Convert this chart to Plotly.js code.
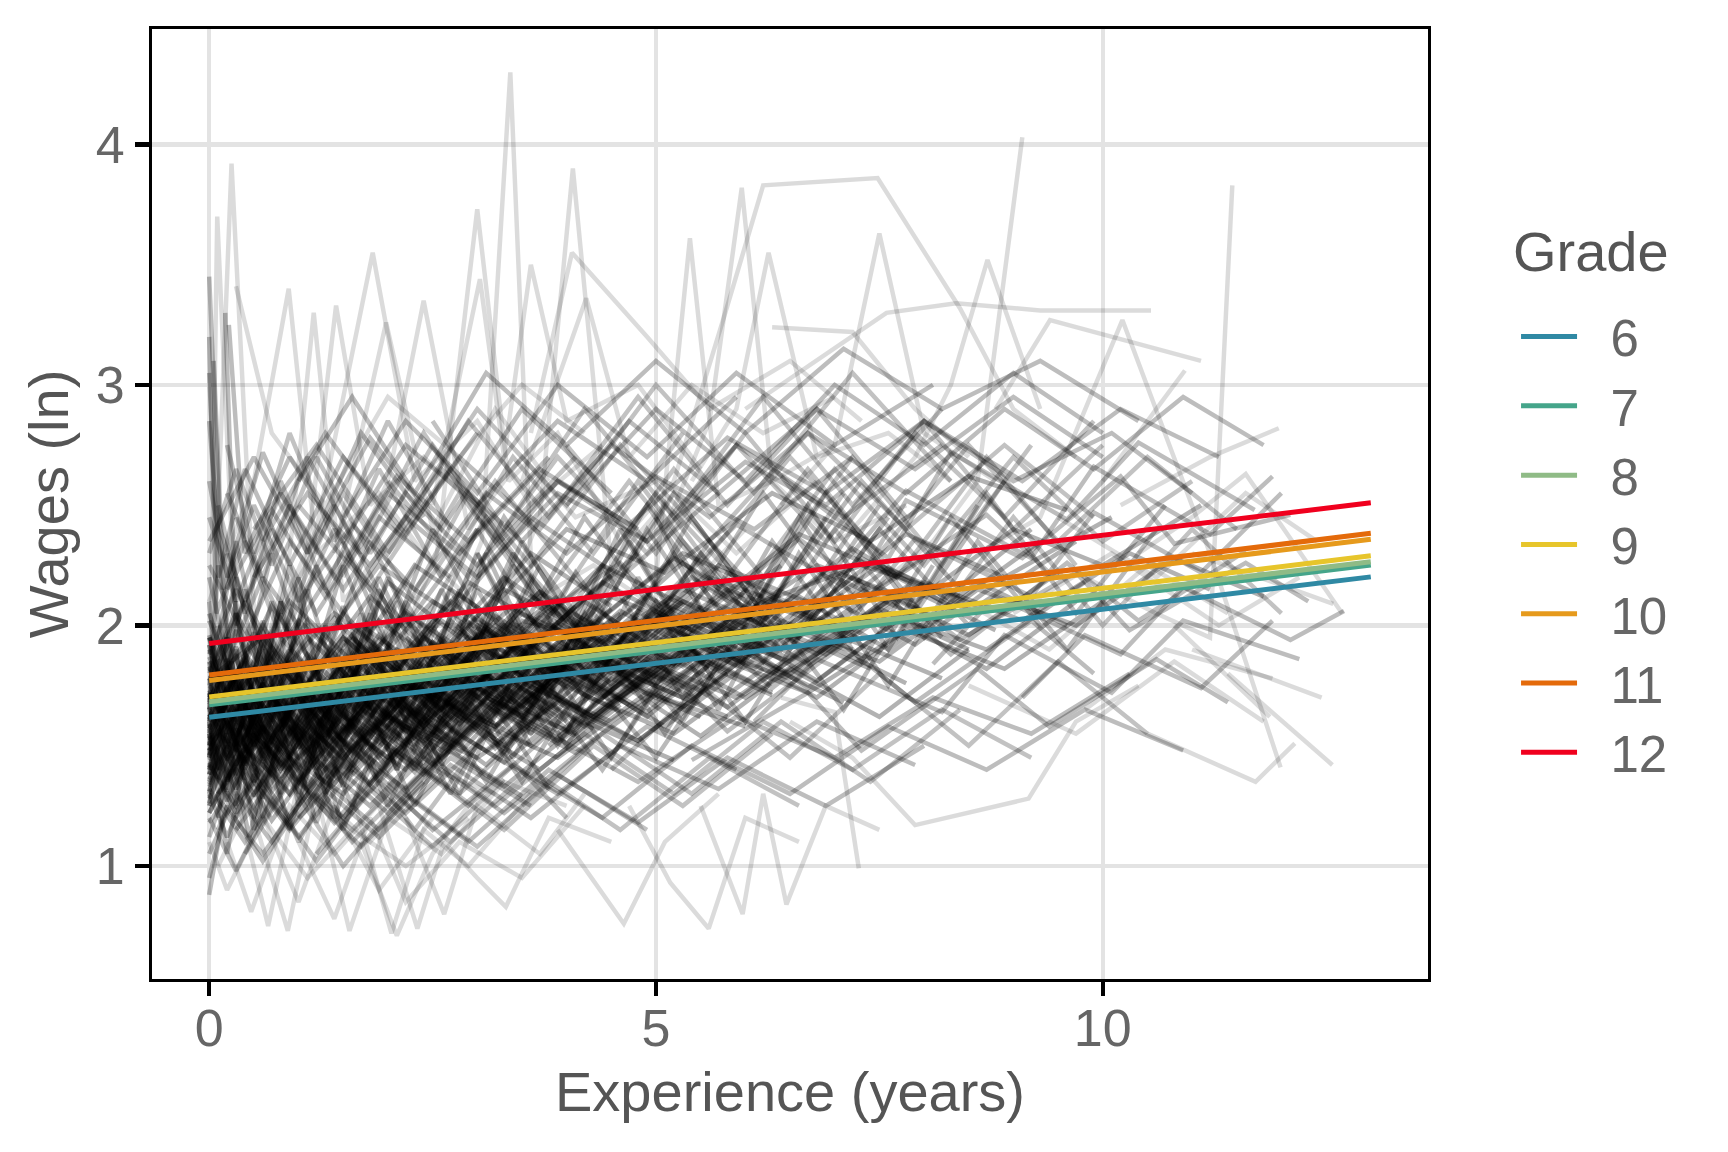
<!DOCTYPE html>
<html>
<head>
<meta charset="utf-8">
<script src="https://cdn.plot.ly/plotly-3.0.1.min.js"></script>
<style>
html, body { margin: 0; padding: 0; background: #fff; }
#chart { width: 1728px; height: 1152px; }
</style>
</head>
<body>
<div id="chart"></div>
<script>
// each person: exper, lnw, exper, lnw, ...
const highOutliers = [
	[2.6,1.95, 3.05,2.35, 3.37,4.30, 3.62,2.10, 4.3,2.25, 5.1,2.05, 6.0,2.40],
	[0,1.55, 0.25,3.92, 0.55,1.70, 1.1,1.85, 1.8,1.62, 2.5,2.00],
	[0,1.45, 0.09,3.70, 0.35,1.55, 0.9,1.40, 1.6,1.75, 2.4,1.62, 3.1,1.90],
	[3.2,2.00, 3.7,2.45, 4.07,3.90, 4.5,2.25, 5.2,2.55, 5.9,2.30, 6.8,2.60],
	[2.0,1.80, 2.55,2.30, 3.0,3.73, 3.35,2.60, 3.9,2.80, 4.6,2.35],
	[0.6,1.90, 1.2,2.40, 1.83,3.55, 2.3,2.60, 3.0,2.85, 3.6,2.50, 4.4,2.75],
	[0,2.10, 0.5,2.60, 0.89,3.40, 1.2,2.30, 1.9,2.55, 2.6,2.20],
	[0.3,3.41, 0.7,2.80, 1.3,2.50, 2.0,2.95, 2.8,2.70, 3.5,3.00, 4.2,2.80],
	[1.5,2.20, 2.0,2.60, 2.4,3.35, 2.9,2.40, 3.5,2.70, 4.1,2.45, 5.0,2.60],
	[2.5,2.50, 3.03,3.44, 3.3,2.70, 3.6,3.50, 4.0,2.85, 4.8,3.00, 5.5,2.65],
	[3.5,2.60, 4.22,3.36, 4.7,2.70, 5.4,3.00, 6.2,2.80, 7.0,2.95],
	[0.5,1.70, 0.9,2.30, 1.17,3.30, 1.5,2.10, 2.1,2.40, 2.8,2.15],
	[1.0,2.00, 1.42,3.33, 1.8,2.50, 2.4,2.70, 3.1,2.45],
	[1.4,2.30, 1.98,3.26, 2.5,2.40, 3.2,2.90, 3.8,2.60],
	[3.6,2.80, 4.06,3.55, 4.9,3.20, 5.6,2.90, 6.5,3.10, 7.3,2.85],
	[4.6,2.40, 5.0,2.20, 5.38,3.61, 5.7,2.50, 6.3,2.60, 7.0,2.35, 7.8,2.50],
	[4.5,2.30, 5.2,2.60, 5.8,3.33, 6.2,3.83, 7.48,3.86, 8.4,3.32, 9.0,2.90, 9.7,2.70],
	[5.1,2.40, 5.6,2.85, 5.96,3.82, 6.3,2.60, 7.0,2.75],
	[5.4,2.60, 5.9,2.90, 6.26,3.55, 6.8,2.70, 7.6,2.80, 8.3,2.60],
	[6.4,2.50, 7.0,2.75, 7.5,3.63, 8.0,2.80, 8.8,2.60],
	[7.2,2.40, 7.9,2.70, 8.3,3.00, 8.71,3.52, 9.3,2.90],
	[7.6,2.20, 8.1,2.35, 8.6,2.60, 9.1,4.03],
	[6.0,2.90, 6.8,3.10, 7.58,3.30, 8.36,3.34, 9.3,3.31, 10.54,3.31],
	[8.8,2.90, 9.41,3.27, 11.1,3.10],
	[8.6,2.30, 9.3,2.45, 10.22,3.27, 11.2,2.30, 11.99,1.41],
	[9.8,2.20, 10.6,2.05, 11.2,1.95, 11.45,3.83],
	[6.3,3.24, 7.2,3.22, 7.9,2.90, 8.5,2.70],
	[10.0,2.60, 10.92,3.06]
];

const lowOutliers = [
	[0.3,1.30, 0.66,0.75, 1.0,1.35, 1.5,1.20, 2.1,1.50],
	[0.5,1.20, 0.88,0.73, 1.2,1.30, 1.8,1.10, 2.5,1.40, 3.2,1.30],
	[0.2,1.10, 0.47,0.81, 0.9,1.25, 1.4,1.05, 2.0,1.30],
	[1.2,1.30, 1.57,0.73, 2.0,1.20, 2.6,1.05, 3.3,1.35, 4.0,1.25],
	[1.6,1.30, 2.04,0.72, 2.4,1.15, 2.9,1.00, 3.6,1.30],
	[1.9,1.25, 2.33,0.74, 2.63,1.10, 3.0,0.95, 3.32,0.83, 3.8,1.20, 4.5,1.10],
	[2.2,1.20, 2.63,0.80, 3.0,1.25, 3.7,1.05, 4.2,1.30],
	[3.9,1.15, 4.64,0.76, 5.1,1.10, 5.7,1.30],
	[4.7,1.25, 5.16,0.93, 5.59,0.74, 6.0,1.20, 6.6,1.10],
	[5.5,1.25, 5.97,0.80, 6.2,1.30, 6.46,0.84, 6.9,1.25, 7.5,1.15],
	[6.4,1.70, 7.0,1.64, 7.27,0.99],
	[0,1.10, 0.2,0.90, 0.6,1.20, 1.1,0.95, 1.6,1.15, 2.2,1.00, 2.9,1.20],
	[0.1,1.00, 0.5,1.30, 1.0,0.85, 1.4,1.25, 1.9,0.90, 2.5,1.20],
	[1.0,1.10, 1.4,0.78, 1.8,1.20, 2.2,0.85, 2.8,1.10, 3.5,0.95, 4.2,1.25],
	[1.7,1.10, 2.1,0.71, 2.5,1.05, 3.0,1.30],
	[6.5,1.60, 7.2,1.45, 7.9,1.17, 9.17,1.28, 9.7,1.60, 10.4,1.75]
];

const earlyCore = [
	[0,1.62, 0.4,1.85, 0.9,1.55, 1.5,1.78, 2.1,1.66, 2.9,1.95, 3.8,1.82, 4.6,2.05],
	[0,1.48, 0.3,1.70, 0.8,1.42, 1.3,1.60, 2.0,1.88, 2.7,1.71, 3.5,2.02, 4.4,1.93, 5.3,2.15, 6.1,2.02],
	[0,1.75, 0.5,1.52, 1.0,1.80, 1.6,1.64, 2.2,2.05, 3.0,1.86, 3.9,2.12],
	[0,1.35, 0.25,1.62, 0.7,1.48, 1.2,1.72, 1.9,1.55, 2.6,1.80, 3.4,1.68, 4.3,1.95, 5.2,1.83, 6.2,2.10, 7.3,2.25, 8.4,2.12],
	[0,1.90, 0.35,1.58, 0.8,1.95, 1.4,1.70, 2.0,2.18, 2.8,1.95, 3.6,2.30, 4.5,2.08],
	[0.1,1.55, 0.6,1.38, 1.1,1.66, 1.7,1.45, 2.4,1.72, 3.2,1.58, 4.0,1.90, 5.0,1.76, 6.1,2.05],
	[0,1.68, 0.2,1.95, 0.6,1.60, 1.1,1.88, 1.8,1.62, 2.5,1.93, 3.3,1.75],
	[0,1.22, 0.4,1.50, 0.9,1.30, 1.5,1.58, 2.2,1.40, 3.0,1.72, 3.9,1.55, 4.9,1.85, 5.9,1.70, 7.0,1.98],
	[0,2.05, 0.3,1.72, 0.9,2.10, 1.6,1.85, 2.3,2.25, 3.1,2.05, 4.0,2.40, 5.1,2.22, 6.3,2.55, 7.4,2.35, 8.5,2.62, 9.6,2.48],
	[0.2,1.45, 0.7,1.68, 1.3,1.40, 2.0,1.62, 2.8,1.50, 3.6,1.82, 4.6,1.64],
	[0,1.58, 0.5,1.80, 1.1,1.52, 1.8,1.90, 2.6,1.65, 3.5,2.05, 4.5,1.88, 5.6,2.20, 6.7,2.05, 7.8,2.38, 8.9,2.20, 10.1,2.45],
	[0,1.42, 0.3,1.25, 0.8,1.60, 1.4,1.38, 2.1,1.70, 2.9,1.48, 3.8,1.76],
	[0,1.80, 0.4,2.10, 1.0,1.72, 1.7,2.00, 2.4,1.82, 3.3,2.15, 4.2,1.98, 5.3,2.30, 6.4,2.12],
	[0.1,1.30, 0.5,1.55, 1.0,1.35, 1.6,1.62, 2.3,1.42, 3.1,1.70, 4.1,1.55, 5.1,1.88, 6.0,1.70, 7.1,1.95, 8.2,1.78],
	[0,1.65, 0.3,1.42, 0.7,1.70, 1.2,1.50, 1.8,1.78, 2.4,1.58, 3.1,1.85],
	[0,1.52, 0.6,1.75, 1.2,1.48, 2.0,1.80, 2.9,1.60, 3.9,1.92, 4.9,1.75, 5.9,2.05, 6.9,1.88, 8.0,2.18, 9.1,2.02, 10.3,2.30, 11.2,2.15],
	[0,1.95, 0.2,1.62, 0.6,1.88, 1.1,1.60, 1.7,1.92, 2.5,1.70, 3.2,2.00, 4.0,1.82],
	[0,1.38, 0.4,1.60, 0.9,1.45, 1.5,1.30, 2.2,1.58, 3.0,1.45, 3.9,1.68, 4.8,1.52, 5.8,1.80],
	[0,1.72, 0.35,1.50, 0.8,1.82, 1.4,1.58, 2.1,1.90, 2.9,1.72, 3.7,2.05, 4.7,1.86, 5.8,2.15, 6.9,2.00, 8.0,2.28],
	[0.1,1.60, 0.4,1.88, 0.9,1.65, 1.5,1.95, 2.2,1.72, 3.0,2.00, 3.8,1.85],
	[0,1.28, 0.3,1.52, 0.8,1.35, 1.3,1.65, 2.0,1.45, 2.8,1.68, 3.6,1.50, 4.5,1.78, 5.5,1.62],
	[0,1.85, 0.5,1.62, 1.1,1.95, 1.8,1.70, 2.6,2.02, 3.5,1.80, 4.5,2.12, 5.6,1.95, 6.8,2.25, 7.9,2.10, 9.0,2.40, 10.0,2.25, 11.1,2.50],
	[0,1.55, 0.2,1.32, 0.6,1.60, 1.0,1.40, 1.6,1.68, 2.3,1.50, 3.1,1.78, 3.9,1.62],
	[0,1.46, 0.4,1.72, 1.0,1.55, 1.7,1.82, 2.5,1.62, 3.4,1.90, 4.4,1.72, 5.4,2.00, 6.5,1.85, 7.6,2.10],
	[0.2,1.78, 0.6,1.55, 1.1,1.85, 1.7,1.62, 2.4,1.95, 3.2,1.76, 4.1,2.08],
	[0,1.60, 0.3,1.80, 0.7,1.52, 1.2,1.75, 1.8,1.50, 2.5,1.80, 3.3,1.62, 4.2,1.90, 5.2,1.76, 6.2,2.05, 7.2,1.90],
	[0,1.70, 0.5,1.45, 1.1,1.72, 1.8,1.55, 2.6,1.85, 3.5,1.68, 4.5,1.98],
	[0,1.33, 0.4,1.58, 0.9,1.40, 1.6,1.70, 2.4,1.52, 3.3,1.80, 4.3,1.62, 5.4,1.92, 6.5,1.78, 7.6,2.05, 8.7,1.90, 9.8,2.18],
	[0,1.88, 0.3,2.15, 0.8,1.80, 1.4,2.05, 2.1,1.85, 2.9,2.18, 3.8,1.98, 4.8,2.30],
	[0.1,1.50, 0.5,1.30, 1.0,1.58, 1.6,1.38, 2.3,1.65, 3.1,1.48, 4.0,1.75],
	[0,1.57, 0.4,1.78, 0.9,1.50, 1.5,1.85, 2.3,1.62, 3.2,1.95, 4.2,1.78, 5.3,2.10, 6.4,1.95, 7.5,2.25, 8.6,2.08, 9.7,2.35],
	[0,1.40, 0.3,1.65, 0.7,1.38, 1.2,1.60, 1.9,1.42, 2.7,1.70],
	[0,1.78, 0.6,1.95, 1.2,1.70, 1.9,2.02, 2.7,1.80, 3.6,2.12, 4.6,1.92, 5.7,2.25, 6.8,2.08],
	[0,1.25, 0.4,1.45, 0.9,1.20, 1.5,1.50, 2.2,1.32, 3.0,1.60, 3.9,1.45, 4.9,1.72, 6.0,1.58],
	[0.2,1.66, 0.5,1.42, 1.0,1.70, 1.6,1.48, 2.3,1.80, 3.1,1.60, 4.0,1.92, 5.0,1.78],
	[0,1.62, 0.3,1.38, 0.8,1.68, 1.5,1.45, 2.3,1.75, 3.2,1.58, 4.2,1.88, 5.3,1.70, 6.4,2.00, 7.5,1.85, 8.6,2.15, 9.7,2.00, 10.8,2.28, 11.8,2.12],
	[0,1.50, 0.5,1.72, 1.0,1.45, 1.7,1.68, 2.5,1.52],
	[0,1.95, 0.4,1.70, 1.0,2.02, 1.7,1.78, 2.5,2.10, 3.4,1.90, 4.4,2.25, 5.5,2.05, 6.6,2.38, 7.7,2.20],
	[0,1.45, 0.2,1.70, 0.5,1.50, 0.9,1.75, 1.4,1.52, 2.0,1.80, 2.7,1.58, 3.5,1.88, 4.4,1.70, 5.4,1.98],
	[0.1,1.36, 0.5,1.60, 1.1,1.42, 1.8,1.68, 2.6,1.48, 3.5,1.76, 4.5,1.60, 5.6,1.88, 6.7,1.72, 7.8,1.98, 8.9,1.82, 10.0,2.10]
];

const denseCore = [
	[0,1.52, 0.2,1.31, 0.5,1.64, 0.8,1.45, 1.2,1.71, 1.5,1.50, 1.9,1.83, 2.4,1.58, 2.9,1.77, 3.5,1.62, 4.1,1.90],
	[0,1.67, 0.3,1.88, 0.5,1.55, 0.9,1.79, 1.3,1.47, 1.8,1.69, 2.2,1.51, 2.8,1.86, 3.3,1.66, 4.0,1.95, 4.8,1.74],
	[0,1.41, 0.2,1.63, 0.4,1.36, 0.7,1.58, 1.1,1.33, 1.6,1.61, 2.0,1.40, 2.6,1.72, 3.2,1.49, 3.9,1.78],
	[0,1.83, 0.3,1.54, 0.6,1.76, 1.0,1.49, 1.4,1.82, 1.9,1.60, 2.5,1.93, 3.1,1.71, 3.8,2.01, 4.6,1.80, 5.5,2.08],
	[0.1,1.58, 0.3,1.80, 0.6,1.44, 0.9,1.70, 1.3,1.52, 1.7,1.86, 2.3,1.63, 3.0,1.90, 3.7,1.68],
	[0,1.26, 0.2,1.50, 0.5,1.29, 0.9,1.56, 1.4,1.34, 1.9,1.60, 2.5,1.42, 3.2,1.68, 4.0,1.51, 4.9,1.79],
	[0,1.72, 0.2,1.49, 0.4,1.78, 0.8,1.56, 1.1,1.84, 1.6,1.58, 2.1,1.80, 2.7,1.61, 3.4,1.92, 4.2,1.73, 5.1,2.00, 6.0,1.84],
	[0,1.55, 0.3,1.77, 0.7,1.51, 1.0,1.74, 1.5,1.56, 2.0,1.83, 2.5,1.64, 3.0,1.96, 3.6,1.75, 4.3,2.02],
	[0,1.46, 0.1,1.68, 0.4,1.43, 0.8,1.66, 1.2,1.39, 1.7,1.62, 2.3,1.47, 2.9,1.73, 3.6,1.55, 4.4,1.82, 5.3,1.66, 6.2,1.93],
	[0,1.63, 0.4,1.42, 0.7,1.69, 1.1,1.47, 1.6,1.75, 2.1,1.53, 2.7,1.81, 3.3,1.60, 4.0,1.87],
	[0.2,1.51, 0.5,1.73, 0.8,1.48, 1.2,1.77, 1.7,1.55, 2.2,1.86, 2.8,1.67, 3.5,1.94, 4.3,1.76, 5.2,2.05, 6.1,1.87, 7.1,2.13],
	[0,1.36, 0.3,1.59, 0.6,1.33, 1.0,1.55, 1.5,1.37, 2.0,1.64, 2.6,1.45, 3.3,1.70, 4.1,1.54],
	[0,1.78, 0.2,1.55, 0.5,1.83, 0.9,1.61, 1.3,1.90, 1.8,1.67, 2.4,1.95, 3.0,1.74, 3.7,2.03, 4.5,1.85, 5.4,2.12],
	[0,1.59, 0.2,1.37, 0.5,1.62, 0.8,1.40, 1.2,1.68, 1.6,1.46, 2.1,1.72, 2.7,1.52, 3.3,1.79, 4.0,1.60],
	[0,1.69, 0.3,1.91, 0.6,1.63, 1.0,1.86, 1.4,1.60, 1.9,1.88, 2.5,1.66, 3.1,1.97, 3.8,1.79, 4.6,2.06, 5.5,1.88],
	[0,1.44, 0.4,1.66, 0.8,1.40, 1.2,1.63, 1.6,1.42, 2.1,1.70, 2.7,1.49, 3.4,1.76, 4.2,1.58, 5.1,1.84],
	[0.1,1.75, 0.4,1.52, 0.7,1.81, 1.0,1.57, 1.5,1.85, 2.0,1.62, 2.6,1.91, 3.3,1.70],
	[0,1.50, 0.2,1.74, 0.6,1.47, 1.0,1.71, 1.3,1.44, 1.8,1.69, 2.4,1.50, 3.0,1.80, 3.7,1.61, 4.5,1.89, 5.4,1.70, 6.4,1.98, 7.4,1.82],
	[0,1.31, 0.2,1.55, 0.5,1.38, 0.9,1.62, 1.3,1.35, 1.8,1.58, 2.3,1.39, 2.9,1.66],
	[0,1.87, 0.3,1.63, 0.7,1.91, 1.1,1.68, 1.6,1.96, 2.1,1.72, 2.7,2.02, 3.4,1.80, 4.2,2.10, 5.0,1.90],
	[0,1.61, 0.2,1.83, 0.5,1.57, 0.9,1.82, 1.3,1.54, 1.7,1.78, 2.2,1.56, 2.8,1.84, 3.5,1.63, 4.3,1.92, 5.2,1.77],
	[0.1,1.40, 0.4,1.61, 0.8,1.37, 1.1,1.59, 1.6,1.40, 2.2,1.67, 2.8,1.47, 3.5,1.74, 4.3,1.57],
	[0,1.73, 0.3,1.50, 0.6,1.76, 1.0,1.53, 1.4,1.80, 1.9,1.57, 2.4,1.85, 3.0,1.65, 3.7,1.95, 4.5,1.76, 5.4,2.03, 6.4,1.86],
	[0,1.54, 0.3,1.32, 0.6,1.58, 1.0,1.35, 1.5,1.63, 2.0,1.43, 2.6,1.70, 3.3,1.50, 4.1,1.78],
	[0,1.65, 0.2,1.86, 0.5,1.61, 0.8,1.84, 1.2,1.58, 1.7,1.83, 2.3,1.62, 3.0,1.92, 3.8,1.73, 4.7,2.01, 5.6,1.83],
	[0,1.48, 0.3,1.69, 0.7,1.45, 1.2,1.71, 1.7,1.49, 2.3,1.75, 3.0,1.57, 3.8,1.85, 4.7,1.67],
	[0.2,1.82, 0.5,1.59, 0.9,1.86, 1.3,1.62, 1.8,1.91, 2.4,1.69, 3.0,1.98, 3.7,1.77, 4.5,2.07],
	[0,1.38, 0.2,1.60, 0.5,1.35, 0.9,1.57, 1.3,1.33, 1.8,1.60, 2.4,1.41, 3.1,1.69, 3.9,1.52, 4.8,1.78, 5.8,1.62],
	[0,1.77, 0.3,1.98, 0.6,1.70, 1.0,1.94, 1.4,1.68, 1.9,1.96, 2.5,1.74, 3.2,2.04, 4.0,1.85],
	[0,1.57, 0.2,1.36, 0.6,1.63, 1.0,1.41, 1.4,1.66, 1.9,1.45, 2.5,1.73, 3.2,1.54, 4.0,1.83, 4.9,1.64, 5.9,1.92],
	[0,1.22, 0.3,1.46, 0.7,1.19, 1.2,1.44, 1.8,1.25, 2.5,1.52, 3.3,1.33, 4.2,1.60, 5.2,1.44],
	[0,2.02, 0.3,1.76, 0.7,2.08, 1.2,1.82, 1.8,2.12, 2.5,1.88, 3.3,2.20, 4.2,1.97, 5.2,2.28, 6.2,2.06],
	[0.3,1.64, 0.7,1.88, 1.2,1.63, 1.8,1.92, 2.5,1.70, 3.3,2.00, 4.2,1.78, 5.2,2.08, 6.3,1.90, 7.4,2.16],
	[0,1.30, 0.2,1.12, 0.5,1.38, 0.9,1.16, 1.4,1.42, 2.0,1.22, 2.7,1.48, 3.5,1.29],
	[0,1.92, 0.2,1.70, 0.5,1.97, 0.9,1.74, 1.4,2.03, 2.0,1.80, 2.7,2.10, 3.5,1.88, 4.4,2.18, 5.4,1.98, 6.4,2.25],
	[0.4,1.47, 0.8,1.70, 1.3,1.46, 1.9,1.74, 2.6,1.52, 3.4,1.81, 4.3,1.60, 5.3,1.88, 6.3,1.71],
	[0,1.60, 0.1,1.40, 0.3,1.66, 0.6,1.43, 1.0,1.69, 1.5,1.48, 2.1,1.76, 2.8,1.55, 3.6,1.84],
	[0,1.70, 0.4,1.93, 0.9,1.66, 1.5,1.95, 2.2,1.72, 3.0,2.03, 3.9,1.82, 4.9,2.12, 5.9,1.94, 6.9,2.22, 7.9,2.04],
	[0,1.43, 0.3,1.22, 0.7,1.48, 1.1,1.26, 1.6,1.52, 2.2,1.31, 2.9,1.58, 3.7,1.40, 4.6,1.67],
	[0.1,1.86, 0.4,1.62, 0.8,1.89, 1.3,1.64, 1.9,1.94, 2.6,1.71, 3.4,2.01, 4.3,1.80, 5.3,2.10],
	[0,1.53, 0.3,1.75, 0.6,1.49, 1.0,1.76, 1.5,1.52, 2.1,1.80, 2.8,1.59, 3.6,1.87, 4.5,1.69, 5.5,1.97, 6.5,1.80, 7.5,2.07, 8.5,1.90],
	[0,1.66, 0.2,1.44, 0.5,1.71, 0.9,1.46, 1.4,1.74, 2.0,1.52, 2.7,1.82, 3.5,1.62, 4.4,1.90, 5.4,1.73],
	[0.2,1.36, 0.6,1.58, 1.1,1.32, 1.7,1.57, 2.4,1.38, 3.2,1.65, 4.1,1.47, 5.1,1.74],
	[0,1.81, 0.3,2.05, 0.7,1.78, 1.1,2.02, 1.6,1.76, 2.2,2.06, 2.9,1.84, 3.7,2.14, 4.6,1.93],
	[0,1.49, 0.2,1.27, 0.5,1.52, 0.9,1.30, 1.3,1.56, 1.8,1.34, 2.4,1.61, 3.1,1.42, 3.9,1.70, 4.8,1.52, 5.8,1.80],
	[0,1.62, 0.4,1.86, 0.8,1.59, 1.3,1.87, 1.9,1.63, 2.6,1.94, 3.4,1.72, 4.3,2.02, 5.3,1.83, 6.3,2.11, 7.3,1.94],
	[0.1,1.71, 0.3,1.48, 0.7,1.74, 1.1,1.51, 1.6,1.79, 2.2,1.55, 2.9,1.85, 3.7,1.64],
	[0,1.34, 0.3,1.57, 0.7,1.31, 1.2,1.55, 1.8,1.34, 2.5,1.62, 3.3,1.43, 4.2,1.71, 5.2,1.55, 6.2,1.82],
	[0,1.96, 0.2,1.73, 0.6,2.00, 1.0,1.76, 1.5,2.05, 2.1,1.82, 2.8,2.13, 3.6,1.91, 4.5,2.21],
	[0,1.57, 0.3,1.79, 0.6,1.53, 1.0,1.78, 1.5,1.55, 2.1,1.84, 2.7,1.62, 3.4,1.92, 4.2,1.71, 5.1,2.00, 6.1,1.82, 7.1,2.10]
];

const spreadCore = [
	[0,1.40, 0.3,2.05, 0.6,1.55, 1.0,2.20, 1.4,1.45, 1.9,2.10, 2.5,1.60, 3.1,2.30, 3.8,1.75, 4.6,2.40, 5.5,1.85],
	[0,2.10, 0.2,1.35, 0.6,1.95, 1.0,1.25, 1.5,1.90, 2.1,1.40, 2.8,2.15, 3.6,1.55, 4.5,2.25],
	[0.1,1.20, 0.4,1.85, 0.8,1.30, 1.3,2.00, 1.9,1.35, 2.6,1.95, 3.4,1.45, 4.3,2.05, 5.3,1.60, 6.3,2.20],
	[0,1.75, 0.3,2.35, 0.7,1.65, 1.2,2.25, 1.8,1.70, 2.5,2.40, 3.3,1.85, 4.2,2.45, 5.2,1.95, 6.2,2.55, 7.2,2.05],
	[0,1.55, 0.2,1.05, 0.5,1.70, 0.9,1.15, 1.4,1.75, 2.0,1.25, 2.7,1.80, 3.5,1.35, 4.4,1.90],
	[0.2,2.30, 0.5,1.60, 0.9,2.25, 1.4,1.55, 2.0,2.20, 2.7,1.65, 3.5,2.35, 4.4,1.80, 5.4,2.45, 6.4,1.95],
	[0,1.30, 0.3,1.90, 0.6,1.20, 1.0,1.80, 1.5,1.15, 2.1,1.75, 2.8,1.30, 3.6,1.95, 4.5,1.45, 5.5,2.05],
	[0,1.95, 0.4,1.40, 0.8,2.05, 1.3,1.50, 1.9,2.15, 2.6,1.60, 3.4,2.25, 4.3,1.75, 5.3,2.35, 6.4,1.90, 7.5,2.50],
	[0,1.65, 0.1,2.25, 0.4,1.50, 0.8,2.10, 1.2,1.45, 1.7,2.05, 2.3,1.50, 3.0,2.15, 3.8,1.65],
	[0.3,1.50, 0.7,2.10, 1.2,1.40, 1.8,2.05, 2.5,1.55, 3.3,2.20, 4.2,1.70, 5.2,2.30, 6.2,1.85, 7.2,2.40, 8.2,1.95],
	[0,1.85, 0.3,1.25, 0.6,1.90, 1.0,1.30, 1.5,1.95, 2.1,1.40, 2.8,2.00, 3.6,1.50],
	[0,1.45, 0.4,2.15, 0.9,1.50, 1.5,2.25, 2.2,1.60, 3.0,2.30, 3.9,1.70, 4.9,2.40, 5.9,1.85, 6.9,2.45],
	[0.1,2.00, 0.4,1.45, 0.8,2.10, 1.3,1.55, 1.9,2.20, 2.6,1.65, 3.4,2.30, 4.3,1.80],
	[0,1.25, 0.2,1.75, 0.5,1.15, 0.9,1.70, 1.4,1.20, 2.0,1.80, 2.7,1.30, 3.5,1.85, 4.4,1.40, 5.4,1.95],
	[0,1.70, 0.3,2.20, 0.7,1.60, 1.1,2.15, 1.6,1.55, 2.2,2.10, 2.9,1.65, 3.7,2.25, 4.6,1.80, 5.6,2.35, 6.6,1.95, 7.6,2.45],
	[0.2,1.35, 0.6,1.95, 1.1,1.40, 1.7,2.00, 2.4,1.45, 3.2,2.05, 4.1,1.60],
	[0,2.20, 0.3,1.70, 0.7,2.30, 1.2,1.75, 1.8,2.35, 2.5,1.85, 3.3,2.45, 4.2,1.95, 5.2,2.55, 6.2,2.05, 7.3,2.60, 8.4,2.15],
	[0,1.50, 0.2,1.95, 0.5,1.35, 0.9,1.90, 1.3,1.30, 1.8,1.85, 2.4,1.40, 3.1,1.95, 3.9,1.50, 4.8,2.05],
	[0.1,1.80, 0.5,1.20, 1.0,1.75, 1.6,1.25, 2.3,1.80, 3.1,1.35, 4.0,1.90, 5.0,1.45, 6.0,2.00],
	[0,1.60, 0.3,2.10, 0.6,1.45, 1.0,2.00, 1.5,1.50, 2.1,2.10, 2.8,1.60, 3.6,2.20, 4.5,1.75, 5.5,2.30, 6.5,1.90, 7.5,2.40, 8.5,2.00],
	[2.0,1.50, 2.7,2.15, 3.5,1.60, 4.4,2.25, 5.3,1.70, 6.3,2.35, 7.3,1.85, 8.3,2.45, 9.3,2.00],
	[3.0,2.30, 3.8,1.70, 4.7,2.35, 5.6,1.80, 6.6,2.45, 7.6,1.90, 8.6,2.50],
	[1.0,1.35, 1.6,1.95, 2.3,1.40, 3.1,2.00, 4.0,1.50, 5.0,2.10, 6.0,1.60, 7.0,2.20],
	[4.0,1.55, 4.8,2.20, 5.7,1.65, 6.6,2.30, 7.6,1.75, 8.6,2.35, 9.6,1.90, 10.6,2.40],
	[2.5,2.00, 3.3,1.45, 4.2,2.05, 5.1,1.55, 6.1,2.15, 7.1,1.65, 8.1,2.25],
	[5.0,2.45, 5.8,1.85, 6.7,2.50, 7.7,1.95, 8.7,2.55, 9.7,2.05, 10.7,2.50],
	[0,1.38, 0.25,1.85, 0.6,1.28, 1.0,1.82, 1.5,1.33, 2.0,1.88, 2.6,1.42, 3.3,1.97],
	[0,1.92, 0.25,1.45, 0.6,2.02, 1.0,1.52, 1.5,2.08, 2.0,1.58, 2.6,2.15, 3.3,1.66, 4.1,2.22, 5.0,1.75],
	[0.15,1.62, 0.45,1.12, 0.8,1.68, 1.2,1.18, 1.7,1.72, 2.3,1.25, 3.0,1.78, 3.8,1.32],
	[1.5,2.35, 2.2,1.75, 3.0,2.40, 3.9,1.85, 4.9,2.50, 5.9,1.95, 6.9,2.55, 7.9,2.05, 8.9,2.60]
];

const broadBand = [
	[0.5,2.40, 1.2,2.75, 2.0,2.30, 2.9,2.85, 3.8,2.45, 4.8,2.95, 5.8,2.50, 6.8,2.90, 7.8,2.45],
	[0.3,1.15, 0.9,1.45, 1.6,1.10, 2.4,1.40, 3.3,1.15, 4.3,1.50, 5.3,1.25, 6.3,1.55],
	[1.0,2.50, 1.8,2.15, 2.7,2.65, 3.6,2.25, 4.6,2.75, 5.6,2.35, 6.7,2.80, 7.8,2.40, 8.9,2.75, 9.9,2.45],
	[0.2,2.55, 0.6,2.20, 1.1,2.70, 1.7,2.30, 2.4,2.80, 3.2,2.35, 4.1,2.70],
	[0.4,1.05, 0.9,1.35, 1.5,1.00, 2.2,1.30, 3.0,1.08, 3.9,1.38, 4.9,1.15],
	[2.0,2.60, 2.9,2.20, 3.9,2.70, 4.9,2.30, 5.9,2.75, 6.9,2.35, 7.9,2.80, 8.9,2.45, 9.9,2.85],
	[0.1,2.50, 0.4,2.05, 0.8,2.60, 1.3,2.15, 1.9,2.65, 2.6,2.20, 3.4,2.70, 4.3,2.30, 5.3,2.80],
	[1.5,1.20, 2.3,1.50, 3.2,1.25, 4.2,1.55, 5.2,1.30, 6.2,1.60, 7.2,1.40, 8.2,1.65, 9.2,1.45],
	[0.6,2.35, 1.3,2.80, 2.1,2.40, 3.0,2.90, 4.0,2.50, 5.0,3.00, 6.1,2.55, 7.2,3.05, 8.3,2.60],
	[3.0,2.45, 4.0,2.05, 5.0,2.55, 6.0,2.15, 7.0,2.65, 8.0,2.25, 9.0,2.70, 10.0,2.35, 11.0,2.60],
	[0,1.20, 0.3,0.98, 0.7,1.28, 1.2,1.02, 1.8,1.32, 2.5,1.08, 3.3,1.36],
	[4.5,1.40, 5.5,1.75, 6.5,1.45, 7.5,1.80, 8.5,1.50, 9.5,1.85, 10.5,1.55],
	[0.8,2.05, 1.5,2.55, 2.3,2.10, 3.2,2.60, 4.2,2.15, 5.2,2.65, 6.2,2.20, 7.2,2.70, 8.2,2.25, 9.2,2.75],
	[0,2.30, 0.3,2.65, 0.7,2.25, 1.2,2.70, 1.8,2.30, 2.5,2.75, 3.3,2.35],
	[5.5,2.25, 6.5,2.70, 7.5,2.30, 8.5,2.75, 9.5,2.35, 10.5,2.70, 11.5,2.40],
	[1.2,1.05, 1.9,1.35, 2.7,1.10, 3.6,1.40, 4.6,1.15, 5.6,1.45, 6.6,1.25],
	[2.5,2.85, 3.3,2.40, 4.2,2.90, 5.2,2.45, 6.2,2.95, 7.2,2.50, 8.2,2.90],
	[0.2,2.75, 0.5,2.30, 0.9,2.80, 1.4,2.35, 2.0,2.85, 2.7,2.40],
	[6.0,1.85, 7.0,2.40, 8.0,1.95, 9.0,2.45, 10.0,2.00, 11.0,2.40, 12.0,2.05],
	[3.5,1.25, 4.4,1.55, 5.4,1.30, 6.4,1.60, 7.4,1.35, 8.4,1.65],
	[0.7,1.85, 1.4,2.40, 2.2,1.90, 3.1,2.45, 4.1,1.95, 5.1,2.50, 6.1,2.00, 7.1,2.55],
	[0.1,1.15, 0.5,1.55, 1.0,1.10, 1.6,1.50, 2.3,1.15, 3.1,1.55, 4.0,1.20],
	[2.0,2.05, 2.8,2.55, 3.7,2.10, 4.7,2.60, 5.7,2.15, 6.7,2.65, 7.7,2.20, 8.7,2.70, 9.7,2.25],
	[4.0,2.75, 5.0,2.30, 6.0,2.80, 7.0,2.35, 8.0,2.85, 9.0,2.40, 10.0,2.75],
	[0.3,2.45, 0.8,1.95, 1.4,2.50, 2.1,2.00, 2.9,2.55, 3.8,2.05, 4.8,2.60, 5.8,2.10]
];

const midCareers = [
	[2.0,1.62, 2.6,1.88, 3.3,1.64, 4.1,1.95, 4.9,1.72, 5.8,2.03, 6.7,1.84, 7.7,2.12],
	[1.5,1.78, 2.2,2.02, 3.0,1.76, 3.8,2.08, 4.7,1.85, 5.6,2.16, 6.6,1.95, 7.6,2.24, 8.6,2.05],
	[2.5,1.55, 3.2,1.80, 4.0,1.57, 4.9,1.86, 5.8,1.66, 6.8,1.94, 7.8,1.76],
	[3.0,1.88, 3.7,2.14, 4.5,1.90, 5.4,2.20, 6.3,1.98, 7.3,2.28, 8.3,2.08, 9.3,2.35],
	[1.8,1.48, 2.5,1.72, 3.3,1.50, 4.2,1.78, 5.1,1.58, 6.1,1.86, 7.1,1.68],
	[2.2,1.95, 3.0,1.70, 3.9,2.00, 4.8,1.78, 5.8,2.08, 6.8,1.88, 7.8,2.16, 8.8,1.98],
	[3.5,1.66, 4.2,1.92, 5.0,1.68, 5.9,1.97, 6.8,1.77, 7.8,2.05],
	[1.2,1.64, 1.9,1.90, 2.7,1.66, 3.6,1.96, 4.5,1.74, 5.5,2.04, 6.5,1.86, 7.5,2.14, 8.5,1.96, 9.5,2.22],
	[2.8,2.02, 3.5,1.78, 4.3,2.08, 5.2,1.84, 6.2,2.14, 7.2,1.93],
	[4.0,1.80, 4.8,2.06, 5.7,1.82, 6.6,2.12, 7.6,1.90, 8.6,2.18, 9.6,2.00],
	[1.0,1.52, 1.7,1.77, 2.5,1.54, 3.4,1.82, 4.3,1.62, 5.3,1.90, 6.3,1.72],
	[2.3,1.72, 3.1,1.98, 4.0,1.74, 4.9,2.04, 5.9,1.83, 6.9,2.12, 7.9,1.92, 8.9,2.20],
	[3.2,1.58, 4.0,1.84, 4.9,1.62, 5.8,1.90, 6.8,1.70, 7.8,1.98],
	[1.6,1.95, 2.3,1.70, 3.1,1.99, 4.0,1.76, 5.0,2.06, 6.0,1.86],
	[4.5,2.00, 5.3,2.26, 6.2,2.02, 7.2,2.32, 8.2,2.10, 9.2,2.40],
	[0.8,1.60, 1.5,1.84, 2.3,1.58, 3.2,1.88, 4.1,1.66, 5.1,1.95, 6.1,1.76, 7.1,2.04],
	[5.0,1.70, 5.8,1.96, 6.7,1.74, 7.7,2.02, 8.7,1.82, 9.7,2.10],
	[2.6,1.82, 3.4,2.08, 4.3,1.83, 5.2,2.12, 6.2,1.92, 7.2,2.20, 8.2,2.02],
	[3.8,1.50, 4.6,1.76, 5.5,1.54, 6.5,1.82, 7.5,1.62, 8.5,1.90],
	[1.9,1.68, 2.7,1.92, 3.5,1.66, 4.4,1.95, 5.4,1.74, 6.4,2.02]
];

const upperBand = [
	[0,2.25, 0.4,1.95, 0.9,2.35, 1.5,2.05, 2.2,2.45, 3.0,2.20, 3.9,2.55, 4.9,2.35, 6.0,2.68, 7.1,2.45, 8.2,2.75],
	[0,2.45, 0.3,2.10, 0.8,2.55, 1.4,2.20, 2.1,2.62, 2.9,2.35, 3.8,2.70],
	[0.2,2.15, 0.7,2.48, 1.3,2.12, 2.0,2.55, 2.8,2.30, 3.7,2.65, 4.7,2.42, 5.8,2.78, 6.9,2.55, 8.0,2.85, 9.1,2.60, 10.2,2.90, 11.3,2.70],
	[0,2.60, 0.2,2.20, 0.6,2.72, 1.1,2.30, 1.7,2.80, 2.4,2.45],
	[0,2.85, 0.15,2.15, 0.5,2.50, 1.0,2.10, 1.6,2.42, 2.3,2.15, 3.1,2.55, 4.0,2.30, 5.0,2.62, 6.1,2.40, 7.2,2.70],
	[0,3.05, 0.1,2.20, 0.4,2.65, 0.9,2.25, 1.5,2.70, 2.2,2.38, 3.0,2.80],
	[0,3.45, 0.12,2.40, 0.4,2.10, 0.9,2.50, 1.5,2.15, 2.2,2.55, 3.0,2.25, 3.9,2.60, 4.8,2.40],
	[0,3.20, 0.08,2.05, 0.4,2.35, 0.9,1.95, 1.5,2.30, 2.2,2.00, 3.0,2.40],
	[0.05,3.10, 0.2,1.85, 0.6,2.20, 1.2,1.90, 1.9,2.25, 2.7,2.05, 3.6,2.45, 4.6,2.20, 5.7,2.55],
	[0.18,3.30, 0.3,2.00, 0.7,2.40, 1.2,2.05, 1.9,2.45, 2.7,2.20],
	[0.22,3.25, 0.4,2.30, 0.9,2.70, 1.5,2.35, 2.2,2.75, 3.0,2.50, 3.9,2.85, 4.9,2.60, 5.9,2.95],
	[1.0,2.60, 1.6,2.95, 2.3,2.55, 3.1,3.05, 4.0,2.75, 5.0,3.10, 6.0,2.80, 7.1,3.15, 8.2,2.90, 9.3,3.10, 10.4,2.85],
	[1.5,2.45, 2.2,2.85, 3.0,2.55, 3.9,3.00, 4.9,2.70, 5.9,3.05, 7.0,2.75, 8.1,3.00],
	[2.0,2.30, 2.8,2.70, 3.7,2.40, 4.7,2.85, 5.7,2.55, 6.8,2.90, 7.9,2.65, 9.0,2.95, 10.0,2.70],
	[3.0,2.20, 3.9,2.60, 4.9,2.35, 5.9,2.75, 6.9,2.50, 8.0,2.85, 9.0,2.60, 10.1,2.80, 11.0,2.55],
	[0,2.35, 0.5,2.70, 1.1,2.30, 1.8,2.78, 2.6,2.40, 3.5,2.90, 4.5,2.55],
	[0.5,2.20, 1.1,2.55, 1.8,2.25, 2.6,2.65, 3.5,2.35, 4.5,2.75, 5.6,2.45, 6.7,2.80, 7.8,2.55, 8.9,2.90, 9.9,2.65, 10.9,2.95, 11.8,2.75],
	[4.0,2.50, 5.0,2.90, 6.0,2.60, 7.0,3.00, 8.0,2.75, 9.0,3.05, 10.0,2.80]
];

const lowerBand = [
	[0,1.18, 0.4,1.40, 0.9,1.15, 1.5,1.42, 2.2,1.22, 3.0,1.50, 3.9,1.30, 4.9,1.58, 5.9,1.40],
	[0,1.05, 0.3,1.30, 0.7,1.10, 1.2,1.38, 1.9,1.15, 2.7,1.45, 3.6,1.25],
	[0.1,1.28, 0.6,1.05, 1.2,1.35, 1.9,1.12, 2.7,1.42, 3.6,1.20, 4.6,1.50, 5.7,1.32, 6.8,1.60, 7.9,1.42],
	[0,0.95, 0.2,1.25, 0.6,1.02, 1.1,1.30, 1.7,1.08, 2.4,1.35],
	[0.3,1.20, 0.8,1.45, 1.4,1.18, 2.1,1.48, 2.9,1.25, 3.8,1.55, 4.8,1.35, 5.9,1.62, 7.0,1.45, 8.1,1.70, 9.2,1.55, 10.3,1.80],
	[0,1.32, 0.4,1.10, 0.9,1.38, 1.6,1.15, 2.4,1.45, 3.3,1.22, 4.3,1.52],
	[1.0,1.20, 1.7,1.45, 2.5,1.15, 3.4,1.42, 4.4,1.20, 5.4,1.50, 6.5,1.30, 7.6,1.58, 8.7,1.40, 9.8,1.65, 10.9,1.48],
	[2.0,1.35, 2.9,1.10, 3.8,1.40, 4.8,1.18, 5.8,1.45, 6.9,1.25, 8.0,1.50],
	[0,0.88, 0.15,1.20, 0.5,1.35, 1.0,1.12, 1.6,1.40],
	[0,1.12, 0.25,1.40, 0.6,1.18, 1.0,1.42, 1.5,1.20, 2.1,1.48, 2.8,1.30, 3.6,1.58]
];

const laterCareers = [
	[3.1,1.75, 3.9,2.08, 5.2,1.84, 5.8,2.22, 7.1,1.98, 7.9,2.36, 9.2,2.12, 9.9,2.47, 11.1,2.22, 12.0,2.55],
	[4.4,1.70, 5.6,1.96, 6.3,1.74, 7.6,2.12, 8.3,1.88, 9.6,2.26, 10.4,2.02, 11.6,2.31],
	[5.1,2.12, 5.9,2.42, 7.2,2.14, 7.8,2.52, 9.1,2.28, 10.2,2.62, 10.8,2.34, 12.1,2.46],
	[6.1,1.60, 6.8,1.86, 8.2,1.64, 8.9,1.96, 10.1,1.72, 10.9,2.02, 12.2,1.86],
	[3.4,1.96, 4.6,2.26, 5.3,1.98, 6.6,2.36, 7.4,2.14, 8.7,2.46, 9.4,2.22],
	[2.4,1.60, 3.6,1.92, 4.3,1.68, 5.6,2.02, 6.4,1.80, 7.7,2.14, 8.4,1.94, 9.7,2.22, 10.3,1.98, 11.6,2.26, 12.3,2.10],
	[7.1,2.26, 7.8,2.56, 9.2,2.28, 9.9,2.66, 11.2,2.38, 11.9,2.62],
	[8.1,1.84, 8.8,2.12, 10.2,1.88, 10.9,2.16, 12.1,1.94, 12.7,2.06],
	[5.4,1.44, 6.7,1.72, 7.3,1.48, 8.6,1.82, 9.4,1.58, 10.6,1.86, 11.4,1.68],
	[6.4,2.62, 7.6,2.28, 8.3,2.72, 9.6,2.44, 10.4,2.76, 11.7,2.48],
	[9.1,1.70, 9.8,1.96, 11.1,1.74, 11.9,2.02],
	[3.9,1.54, 5.1,1.82, 5.8,1.56, 7.1,1.92, 7.9,1.68, 9.2,2.02, 9.9,1.80]
];

const rightTail = [
	[10.5,1.55, 11.71,1.35, 12.15,1.51],
	[10.4,2.30, 11.0,2.45, 11.6,2.63, 12.68,2.05],
	[10.2,2.50, 11.2,2.70, 11.97,2.82],
	[11.0,1.90, 12.45,1.70],
	[10.8,2.00, 11.87,1.62],
	[11.0,2.30, 12.58,2.09],
	[11.4,1.80, 12.57,1.42],
	[9.0,2.05, 10.1,2.30, 11.3,2.00, 12.2,2.20],
	[8.5,1.75, 9.7,1.55, 10.8,1.85, 11.8,1.60],
	[9.5,2.45, 10.6,2.20, 11.6,2.55, 12.4,2.35],
	[8.2,2.15, 9.4,1.90, 10.5,2.25, 11.4,2.05],
	[9.8,1.65, 10.7,1.90, 11.9,1.78]
];

// fitted lines per highest grade completed
const grades = [6, 7, 8, 9, 10, 11, 12];
const fitExper = [0, 13];
const fitStart = [1.618, 1.670, 1.683, 1.703, 1.771, 1.794, 1.925];
const fitEnd = [2.202, 2.251, 2.265, 2.290, 2.358, 2.383, 2.510];
const gradeColors = ['#2f89a4', '#45a58a', '#8fbb86', '#e7c52b', '#e69a1c', '#e46a0a', '#f0001e'];

// the real panel holds ~900 people; fewer lines here, so the crowded middle gets more ink
const groups = [
	{people: highOutliers, alpha: 0.14},
	{people: lowOutliers, alpha: 0.14},
	{people: rightTail, alpha: 0.14},
	{people: upperBand, alpha: 0.26},
	{people: lowerBand, alpha: 0.26},
	{people: laterCareers, alpha: 0.26},
	{people: broadBand, alpha: 0.24},
	{people: midCareers, alpha: 0.3},
	{people: spreadCore, alpha: 0.27},
	{people: earlyCore, alpha: 0.3},
	{people: denseCore, alpha: 0.3}
];

let traces = [];
groups.forEach(function(grp) {
	grp.people.forEach(function(p) {
		let x = [], y = [];
		for (let i = 0; i < p.length; i += 2) {
			x.push(p[i]);
			y.push(p[i+1]);
		}
		traces.push({
			x: x, y: y, type: 'scatter', mode: 'lines',
			line: {color: 'rgba(0,0,0,' + grp.alpha + ')', width: 4.5},
			hoverinfo: 'skip', showlegend: false
		});
	});
});

grades.forEach(function(g, i) {
	traces.push({
		x: fitExper, y: [fitStart[i], fitEnd[i]],
		type: 'scatter', mode: 'lines', name: '\u00a0\u00a0' + g,
		line: {color: gradeColors[i], width: 5}
	});
});

const axisBase = {
	ticks: 'outside', ticklen: 14, tickwidth: 4.5, tickcolor: '#000',
	showline: true, linecolor: '#000', linewidth: 3, mirror: true,
	showgrid: true, gridcolor: '#e3e3e3', gridwidth: 4.5, zeroline: false,
	tickfont: {size: 52, color: '#666'}
};

let layout = {
	width: 1728, height: 1152,
	margin: {l: 152, r: 300, t: 29, b: 173},
	paper_bgcolor: '#fff', plot_bgcolor: '#fff',
	font: {family: 'Liberation Sans, Arial, sans-serif', color: '#666'},
	xaxis: Object.assign({}, axisBase, {
		range: [-0.64, 13.64], tickvals: [0, 5, 10], ticklabelstandoff: -12,
		title: {text: 'Experience (years)', font: {size: 56, color: '#555'}, standoff: 16}
	}),
	yaxis: Object.assign({}, axisBase, {
		range: [0.53, 4.48], tickvals: [1, 2, 3, 4],
		title: {text: 'Wages (ln)', font: {size: 56, color: '#555'}, standoff: 10}
	}),
	showlegend: true,
	legend: {
		x: 1.069, xanchor: 'left', y: 0.718, yanchor: 'top',
		bgcolor: 'rgba(0,0,0,0)', itemwidth: 56,
		font: {size: 51, color: '#666'}
	},
	annotations: [{
		text: 'Grade', xref: 'paper', yref: 'paper', x: 1.065, y: 0.766,
		xanchor: 'left', yanchor: 'middle', showarrow: false,
		font: {size: 56, color: '#555'}
	}]
};

Plotly.newPlot('chart', traces, layout, {displayModeBar: false, staticPlot: true});
</script>
</body>
</html>
